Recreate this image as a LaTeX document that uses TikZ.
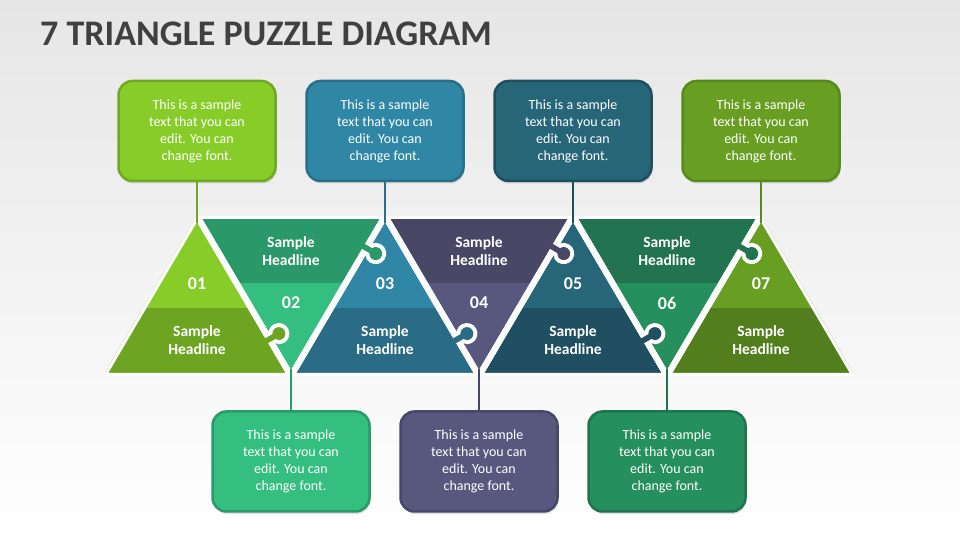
\documentclass[tikz,border=0pt]{standalone}
\usepackage{fontspec}
\setmainfont{Carlito}
\usetikzlibrary{calc,shadows}

\definecolor{titlegray}{HTML}{404040}
\definecolor{bgtop}{HTML}{E6E6E6}
\definecolor{top1}{HTML}{88CC2A}
\definecolor{bot1}{HTML}{6DA523}
\definecolor{line1}{HTML}{6FA823}
\definecolor{top2}{HTML}{2A9868}
\definecolor{bot2}{HTML}{34BE80}
\definecolor{line2}{HTML}{2A9A66}
\definecolor{top3}{HTML}{2F87A5}
\definecolor{bot3}{HTML}{2A6B85}
\definecolor{line3}{HTML}{2A6E89}
\definecolor{top4}{HTML}{494766}
\definecolor{bot4}{HTML}{58587F}
\definecolor{line4}{HTML}{47476A}
\definecolor{top5}{HTML}{276579}
\definecolor{bot5}{HTML}{1F4F61}
\definecolor{line5}{HTML}{1F4F5F}
\definecolor{top6}{HTML}{227350}
\definecolor{bot6}{HTML}{268F5E}
\definecolor{line6}{HTML}{1E7450}
\definecolor{top7}{HTML}{689F22}
\definecolor{bot7}{HTML}{527E1D}
\definecolor{line7}{HTML}{578A1C}

\tikzset{
	textbox/.style={rounded corners=14pt, minimum width=157pt, minimum height=100pt,
		line width=2.5pt, align=center, text=white, font=\fontsize{14}{17}\selectfont,
		drop shadow={shadow xshift=1pt, shadow yshift=-2.5pt, opacity=0.25}},
	headline/.style={align=center, text=white, font=\bfseries\fontsize{15.5}{18}\selectfont},
	numlabel/.style={text=white, font=\bfseries\fontsize{18}{20}\selectfont},
	seam/.style={white, line width=6pt, rounded corners=5pt}
}

\begin{document}
\begin{tikzpicture}[x=1pt,y=1pt]
\useasboundingbox (0,0) rectangle (960,540);
\shade[top color=bgtop, bottom color=white] (0,0) rectangle (960,540);
\node[anchor=base west, inner sep=0pt, text=titlegray, font=\bfseries\fontsize{36}{40}\selectfont] (title) at (40,494) {7 TRIANGLE PUZZLE DIAGRAM};

\foreach \k in {1,...,7}
{
	\pgfmathsetmacro\cx{197+94*(\k-1)}
	\ifodd\k
		\begin{scope}
			\clip[rounded corners=5pt] (\cx,324) -- (\cx+94,164) -- (\cx-94,164) -- cycle;
			\fill[top\k] (\cx-94,232) rectangle (\cx+94,324);
			\fill[bot\k] (\cx-94,164) rectangle (\cx+94,232);
		\end{scope}
	\else
		\begin{scope}
			\clip[rounded corners=5pt] (\cx-94,324) -- (\cx+94,324) -- (\cx,164) -- cycle;
			\fill[top\k] (\cx-94,257) rectangle (\cx+94,324);
			\fill[bot\k] (\cx-94,164) rectangle (\cx+94,257);
		\end{scope}
	\fi
}
\begin{scope}
	\clip (103,164) -- (197,324) -- (761,324) -- (855,164) -- cycle;
	\foreach \k in {1,...,7}
	{
		\pgfmathsetmacro\cx{197+94*(\k-1)}
		\ifodd\k
			\draw[seam] (\cx,324) -- (\cx+94,164) -- (\cx-94,164) -- cycle;
		\else
			\draw[seam] (\cx-94,324) -- (\cx+94,324) -- (\cx,164) -- cycle;
		\fi
	}
\end{scope}

% puzzle knobs, always from the left piece into the right one
\foreach \k in {1,...,6}
{
	\pgfmathsetmacro\cx{197+94*(\k-1)}
	\ifodd\k
		\coordinate (knob\k) at (\cx+94*0.77,324-160*0.77);
		\def\na{30.43}\def\knobcol{bot\k}
	\else
		\coordinate (knob\k) at (\cx+94-94*0.2,324-160*0.2);
		\def\na{-30.43}\def\knobcol{top\k}
	\fi
	\draw[white, line width=8pt] ($(knob\k)+(\na+90:2.8)$) -- ++(\na:5.13)
		arc[start angle=\na+154.5, end angle=\na-154.5, radius=6.5] -- ++(\na+180:5.13);
	\fill[\knobcol] ($(knob\k)+(\na+90:2.8)+(\na+180:3.5)$) -- ++(\na:8.63)
		arc[start angle=\na+154.5, end angle=\na-154.5, radius=6.5] -- ++(\na+180:8.63) -- cycle;
}

\foreach \k in {1,...,7}
{
	\pgfmathsetmacro\cx{197+94*(\k-1)}
	\ifodd\k
		\node[textbox, fill=top\k, draw=line\k] (box\k) at (\cx,409) {This is a sample\\text that you can\\edit. You can\\change font.};
		\coordinate (tip\k) at (\cx,317);
		\draw[line\k, line width=2.5pt] (box\k.south) -- (tip\k);
		\node[numlabel] (num\k) at (\cx,256) {0\k};
		\node[headline] (head\k) at (\cx,200) {Sample\\Headline};
	\else
		\node[textbox, fill=bot\k, draw=line\k] (box\k) at (\cx,78.5) {This is a sample\\text that you can\\edit. You can\\change font.};
		\coordinate (tip\k) at (\cx,171);
		\draw[line\k, line width=2.5pt] (tip\k) -- (box\k.north);
		\node[numlabel] (num\k) at (\cx,237) {0\k};
		\node[headline] (head\k) at (\cx,289) {Sample\\Headline};
	\fi
}
\end{tikzpicture}
\end{document}
